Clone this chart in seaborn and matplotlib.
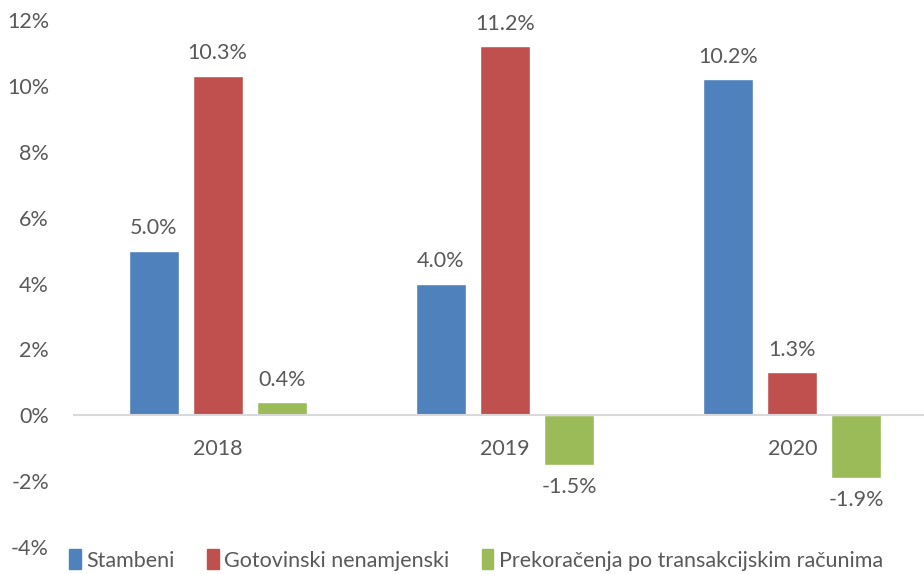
import matplotlib

matplotlib.use("Agg")

import matplotlib.pyplot as plt
import pandas as pd
import seaborn as sns

years = ["2018", "2019", "2020"]
series = ["Stambeni", "Gotovinski nenamjenski", "Prekoračenja po transakcijskim računima"]
stambeni = [5.0, 4.0, 10.2]
gotovinski = [10.3, 11.2, 1.3]
prekoracenja = [0.4, -1.5, -1.9]
colors = ["#4F81BD", "#C0504D", "#9BBB59"]
y_ticks = [-4, -2, 0, 2, 4, 6, 8, 10, 12]

df = pd.DataFrame({
    "year": years * 3,
    "series": [series[0]] * 3 + [series[1]] * 3 + [series[2]] * 3,
    "value": stambeni + gotovinski + prekoracenja,
})

sns.set_theme(style="white")
plt.rcParams["font.family"] = ["Lato", "DejaVu Sans"]
text_color = "#595959"
fs = 15.5

fig = plt.figure(figsize=(9.24, 5.74), dpi=100)
ax = fig.add_axes([74 / 924, 1 - 547 / 574, (936 - 74) / 924, (547 - 20) / 574])

sns.barplot(
    data=df, x="year", y="value", hue="series", order=years, hue_order=series,
    palette=colors, width=0.669, gap=0.22, saturation=1, legend=False, ax=ax,
)

ax.set_ylim(-4, 12)
ax.set_yticks(y_ticks)
ax.set_yticklabels([f"{t}%" for t in y_ticks], fontsize=fs, color=text_color)
ax.set_xlabel("")
ax.set_ylabel("")

for side in ["top", "right", "left"]:
    ax.spines[side].set_visible(False)
ax.spines["bottom"].set_position(("data", 0))
ax.spines["bottom"].set_color("#D9D9D9")
ax.spines["bottom"].set_linewidth(1.5)
ax.tick_params(axis="x", length=0, pad=17, labelsize=fs, labelcolor=text_color)
ax.tick_params(axis="y", length=0, pad=18)

for container in ax.containers:
    ax.bar_label(container, labels=[f"{v:.1f}%" for v in container.datavalues],
                 padding=9, fontsize=fs, color=text_color)

handles = [plt.Rectangle((0, 0), 1, 1, color=c) for c in colors]
fig.legend(handles, series, loc="center", bbox_to_anchor=(476 / 924, 1 - 560 / 574),
           ncol=3, frameon=False, fontsize=fs, labelcolor=text_color,
           handlelength=0.55, handleheight=1.0, handletextpad=0.25, columnspacing=1.5)

plt.savefig("out.png", dpi=100)
plt.close()
